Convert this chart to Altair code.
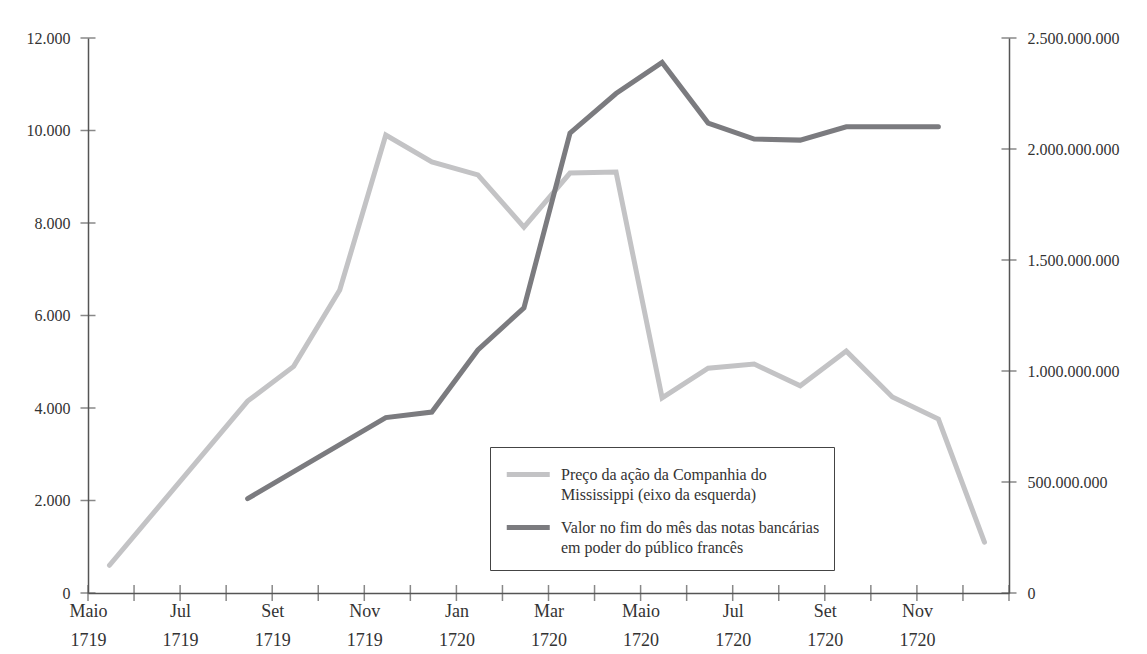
import json
import altair as alt
import pandas as pd

# ---- data ----
price_months = ["1719-05", "1719-08", "1719-09", "1719-10", "1719-11", "1719-12",
                "1720-01", "1720-02", "1720-03", "1720-04", "1720-05", "1720-06",
                "1720-07", "1720-08", "1720-09", "1720-10", "1720-11", "1720-12"]
price_values = [600, 4150, 4900, 6550, 9900, 9320,
                9040, 7910, 9080, 9100, 4220, 4860,
                4950, 4480, 5230, 4240, 3760, 1100]

notes_months = ["1719-08", "1719-11", "1719-12", "1720-01", "1720-02", "1720-03",
                "1720-04", "1720-05", "1720-06", "1720-07", "1720-08", "1720-09",
                "1720-10", "1720-11"]
notes_values = [425e6, 790e6, 815e6, 1095e6, 1284e6, 2072e6,
                2250e6, 2390e6, 2117e6, 2045e6, 2040e6, 2100e6,
                2100e6, 2100e6]

month_names = ["Maio", "Jul", "Set", "Nov", "Jan", "Mar", "Maio", "Jul", "Set", "Nov"]
year_names = ["1719", "1719", "1719", "1719", "1720", "1720", "1720", "1720", "1720", "1720"]

left_tick_values = [0, 2000, 4000, 6000, 8000, 10000, 12000]
right_tick_values = [0, 500e6, 1000e6, 1500e6, 2000e6, 2500e6]
n_months = 20  # May 1719 .. Jan 1721

series_keys = ["preco", "notas"]
series_colors = ["#c3c3c5", "#7b7b7f"]
legend_lines = {
    "preco": ["Preço da ação da Companhia do", "Mississippi (eixo da esquerda)"],
    "notas": ["Valor no fim do mês das notas bancárias", " em poder do público francês"],
}


def month_pos(s):
    y, mo = map(int, s.split("-"))
    return (y - 1719) * 12 + (mo - 5) + 14 / 30


price_df = pd.DataFrame({"m": [month_pos(s) for s in price_months],
                         "v": price_values, "s": "preco"})
notes_df = pd.DataFrame({"m": [month_pos(s) for s in notes_months],
                         "v": notes_values, "s": "notas"})
xt_df = pd.DataFrame({"m": list(range(n_months + 1)), "v": 0})
lt_df = pd.DataFrame({"m": 0, "v": left_tick_values})
rt_df = pd.DataFrame({"m": n_months, "v": right_tick_values})

FONT = "Liberation Serif"
AX = "#555555"
TXT = "#333333"

x_labels = [[m, y] for m, y in zip(month_names, year_names)]
x_expr = json.dumps(x_labels, ensure_ascii=False) + "[datum.value / 2]"

x_enc = alt.X("m:Q",
              scale=alt.Scale(domain=[0, n_months], nice=False, zero=False),
              axis=alt.Axis(title=None, values=list(range(0, n_months, 2)),
                            labelExpr=x_expr, ticks=False, grid=False,
                            domainColor=AX, domainWidth=1.5,
                            labelFont=FONT, labelFontSize=18, labelColor=TXT,
                            labelLineHeight=29, labelPadding=9, labelFlush=False,
                            labelOverlap=False))

y_left = alt.Y("v:Q",
               scale=alt.Scale(domain=[0, 12000], nice=False),
               axis=alt.Axis(title=None, orient="left", values=left_tick_values,
                             format=",d", ticks=False, grid=False,
                             domainColor=AX, domainWidth=1.5,
                             labelFont=FONT, labelFontSize=16, labelColor=TXT,
                             labelPadding=18))

y_right = alt.Y("v:Q",
                scale=alt.Scale(domain=[0, 2.5e9], nice=False),
                axis=alt.Axis(title=None, orient="right", values=right_tick_values,
                              format=",d", ticks=False, grid=False,
                              domainColor=AX, domainWidth=1.5,
                              labelFont=FONT, labelFontSize=16, labelColor=TXT,
                              labelPadding=18))

legend_expr = ("datum.value == 'preco' ? " + json.dumps(legend_lines["preco"], ensure_ascii=False)
               + " : " + json.dumps(legend_lines["notas"], ensure_ascii=False))

color_enc = alt.Color("s:N",
                      scale=alt.Scale(domain=series_keys, range=series_colors),
                      legend=alt.Legend(title=None, orient="none", legendX=402, legendY=409,
                                        direction="vertical", symbolType="M-1,0H3",
                                        symbolSize=462, symbolStrokeWidth=5,
                                        labelFont=FONT, labelFontSize=16, labelColor=TXT,
                                        labelLimit=500,
                                        labelOffset=30, rowPadding=11, padding=14,
                                        strokeColor="#444444", fillColor="white",
                                        labelExpr=legend_expr))

price_line = alt.Chart(price_df).mark_line(strokeWidth=5, strokeCap="round").encode(
    x=x_enc, y=y_left, color=color_enc)
x_ticks = alt.Chart(xt_df).mark_tick(orient="vertical", size=16, thickness=1.5, color=AX).encode(
    x=x_enc, y=y_left)
l_ticks = alt.Chart(lt_df).mark_tick(orient="horizontal", size=15, thickness=1.5, color=AX).encode(
    x=x_enc, y=y_left)

notes_line = alt.Chart(notes_df).mark_line(strokeWidth=5, strokeCap="round").encode(
    x=x_enc, y=y_right, color=color_enc)
r_ticks = alt.Chart(rt_df).mark_tick(orient="horizontal", size=15, thickness=1.5, color=AX).encode(
    x=x_enc, y=y_right)

left = alt.layer(price_line, x_ticks, l_ticks)
right = alt.layer(notes_line, r_ticks)

chart = alt.layer(left, right).resolve_scale(y="independent").properties(
    width=921, height=555,
    padding={"left": 80, "top": 30, "right": 120, "bottom": 58},
    autosize=alt.AutoSizeParams(type="none"),
    background="white",
).configure(
    locale={"number": {"decimal": ",", "thousands": ".", "grouping": [3],
                       "currency": ["", ""]}},
    style={"guide-label": {"lineHeight": 20}},
).configure_view(stroke=None)

chart.save("out.html", embed_options={"renderer": "svg", "actions": False})
